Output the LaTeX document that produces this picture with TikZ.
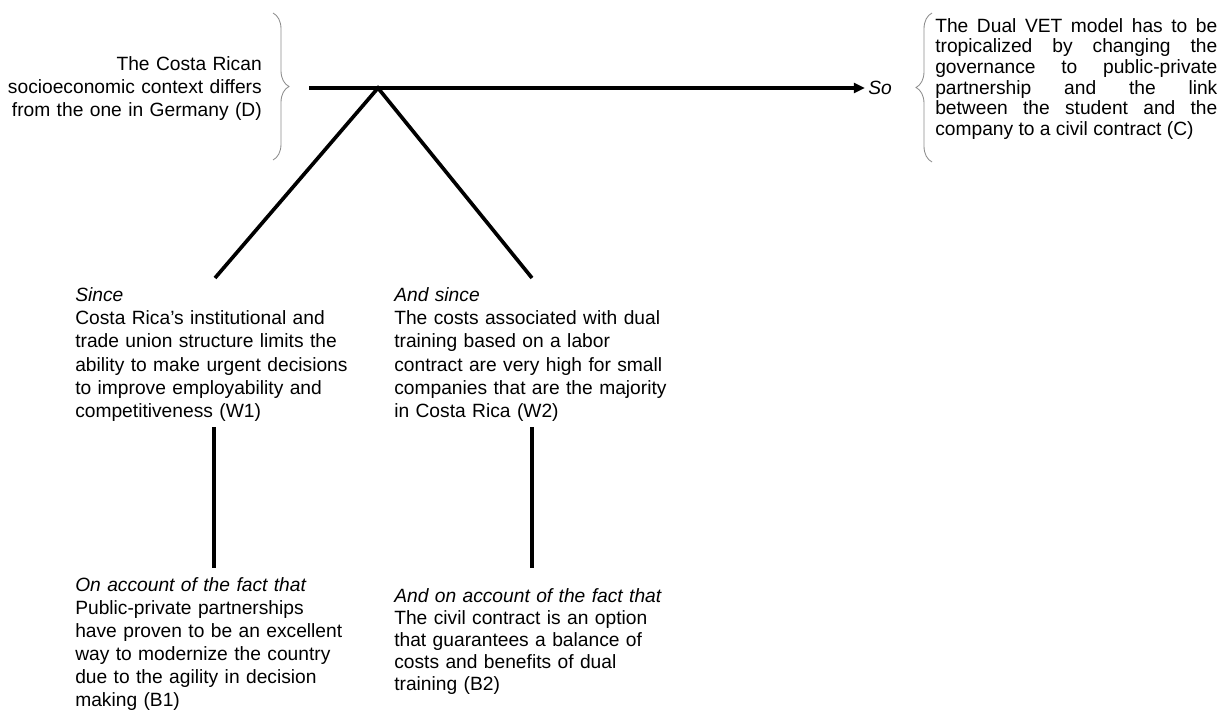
\documentclass[tikz,border=0pt]{standalone}
\usepackage{fontspec}
\setmainfont{Liberation Sans}
\usetikzlibrary{arrows.meta,decorations.pathreplacing}

\newcommand{\argfont}[1]{\fontsize{13.66pt}{#1}\selectfont}

\begin{document}
\begin{tikzpicture}[x=0.025cm, y=-0.025cm,
	part/.style={inner sep=0pt, text width=#1},
	bar/.style={line width=2.6pt},
	curly/.style={draw=black!45, line width=0.6pt, decorate,
		decoration={brace, amplitude=0.4cm}}]

% frame %{{{2

	\useasboundingbox (0,0) rectangle (1218,710);

% coordinates %{{{2

	\coordinate (O) at (378,88);
	\coordinate (S) at (309,88);
	\coordinate (T1) at (215,278);
	\coordinate (T2) at (532,278);

	\foreach \i/\x in {1/214,2/532} {
		\coordinate (L\i) at (\x,427);
		\coordinate (U\i) at (\x,568);
	}

% data and claim %{{{2

	\node[part=6.45cm, align=right, anchor=base east, font=\argfont{16.4pt}] (D) at (262,70)
		{The Costa Rican\\ socioeconomic context differs\\ from the one in Germany (D)};

	\node[inner xsep=0.075cm, inner ysep=0pt, anchor=west, font=\argfont{16pt}\itshape] (so) at (865,88) {So};

	\node[part=7.05cm, align=justify, anchor=base west, font=\argfont{14.7pt}] (C) at (935,32)
		{\tolerance=10000 \hyphenpenalty=10000
		The Dual VET model has to be\linebreak
		tropicalized by changing the\linebreak
		governance to public-private\linebreak
		partnership and the link\linebreak
		between the student and the\linebreak
		company to a civil contract (C)};

% warrants %{{{2

	\node[part=7.5cm, align=left, anchor=base west, font=\argfont{16.6pt}] (W1) at (75,301)
		{\textit{Since}\\ Costa Rica's institutional and\\ trade union structure limits the\\
		ability to make urgent decisions\\ to improve employability and\\ competitiveness (W1)};

	\node[part=7.5cm, align=left, anchor=base west, font=\argfont{16.6pt}] (W2) at (394,301)
		{\textit{And since}\\ The costs associated with dual\\ training based on a labor\\
		contract are very high for small\\ companies that are the majority\\ in Costa Rica (W2)};

% backings %{{{2

	\node[part=7.5cm, align=left, anchor=base west, font=\argfont{16.4pt}] (B1) at (75,591)
		{\textit{On account of the fact that}\\ Public-private partnerships\\ have proven to be an excellent\\
		way to modernize the country\\ due to the agility in decision\\ making (B1)};

	\node[part=7.5cm, align=left, anchor=base west, font=\argfont{15.7pt}] (B2) at (394,602)
		{\textit{And on account of the fact that}\\ The civil contract is an option\\ that guarantees a balance of\\
		costs and benefits of dual\\ training (B2)};

% braces %{{{2

	\draw[curly] (273,13) -- (273,160);
	\draw[curly] (932,162) -- (932,13);

% lines %{{{2

	\draw[bar, -{Triangle[length=0.28cm, width=0.25cm]}] (S) -- (so.west);
	\draw[bar] (T1) -- (O) -- (T2);

	\foreach \i in {1,2} { \draw[bar] (L\i) -- (U\i); }

% closing %{{{2

\end{tikzpicture}
\end{document}
